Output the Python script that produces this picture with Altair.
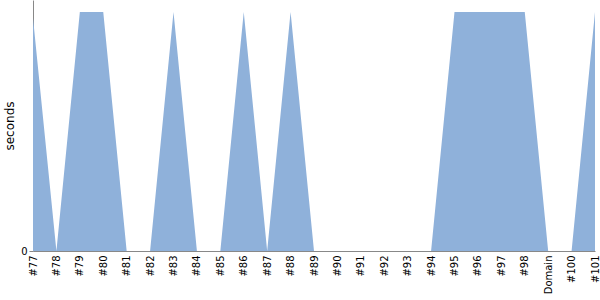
import altair as alt
import pandas as pd

categories = ["#77", "#78", "#79", "#80", "#81", "#82", "#83", "#84", "#85", "#86",
              "#87", "#88", "#89", "#90", "#91", "#92", "#93", "#94", "#95", "#96",
              "#97", "#98", "Domain", "#100", "#101"]
seconds = [0.975, 0, 1, 1, 0, 0, 1, 0, 0, 1,
           0, 1, 0, 0, 0, 0, 0, 0, 1, 1,
           1, 1, 0, 0, 1]

df = pd.DataFrame({"build": categories, "seconds": seconds})

chart = alt.Chart(df).mark_area(color="#8fb1da", opacity=1, interpolate="linear").encode(
    x=alt.X("build:N", sort=categories, scale=alt.Scale(type="point", padding=0),
            axis=alt.Axis(title=None, labelAngle=270, labelFontSize=10, labelFont="DejaVu Sans",
                          labelColor="#000", domainColor="#888", tickColor="#888", ticks=False,
                          labelPadding=4, grid=False)),
    y=alt.Y("seconds:Q", scale=alt.Scale(domain=[0, 1.05], nice=False),
            axis=alt.Axis(title="seconds", values=[0], labelFont="DejaVu Sans", labelFontSize=10,
                          labelColor="#000", domainColor="#888", tickColor="#888", tickSize=4,
                          titleFont="DejaVu Sans", titleFontSize=12, titleFontWeight="normal",
                          titleColor="#000", grid=False)),
).properties(
    width=562, height=251,
    autosize=alt.AutoSizeParams(type="none"),
    padding={"left": 33, "top": 0, "right": 5, "bottom": 49},
).configure_view(stroke=None)

chart.save("out.html", embed_options={"renderer": "svg", "actions": False})
